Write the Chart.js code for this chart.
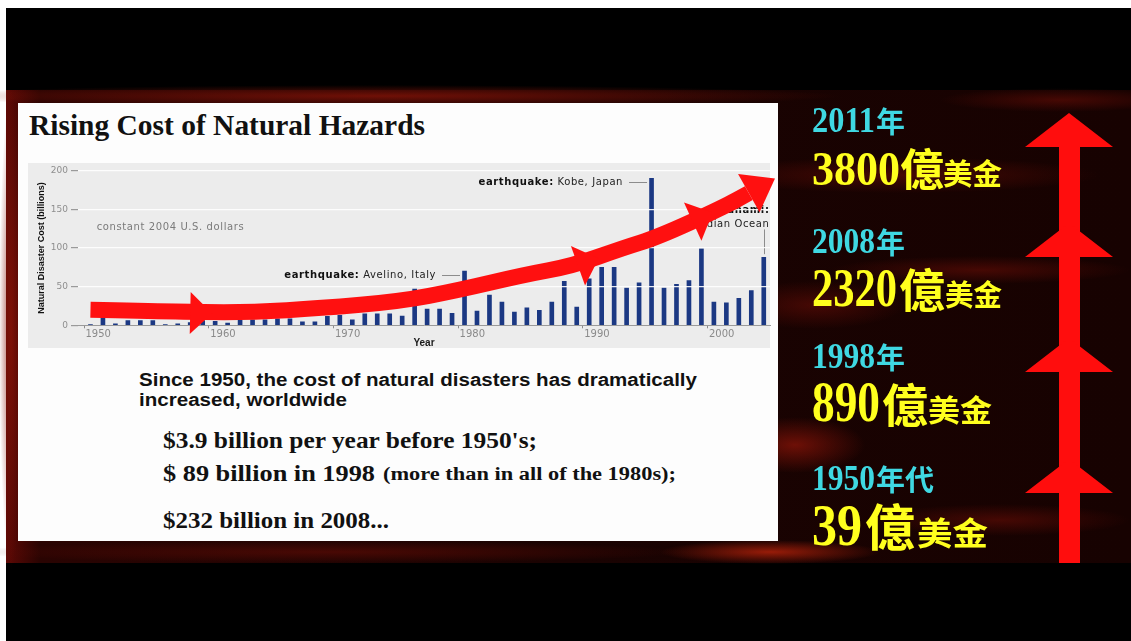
<!DOCTYPE html>
<html>
<head>
<meta charset="utf-8">
<script src="https://cdn.jsdelivr.net/npm/chart.js@4.4.0/dist/chart.umd.min.js"></script>
<style>
  html,body{margin:0;padding:0;background:#fff;}
  #stage{position:relative;width:1131px;height:641px;overflow:hidden;}
  #bg{position:absolute;left:0;top:0;}
  #plotbg{position:absolute;left:28px;top:163px;width:742px;height:185px;background:#ececec;}
  #wrap{position:absolute;left:28px;top:160px;width:752px;height:195px;}
  #fg{position:absolute;left:0;top:0;pointer-events:none;}
</style>
</head>
<body>
<div id="stage">
<svg id="bg" width="1131" height="641" xmlns="http://www.w3.org/2000/svg">
  <defs>
    <radialGradient id="glow"><stop offset="0" stop-color="#8a1408" stop-opacity="0.75"/><stop offset="1" stop-color="#8a1408" stop-opacity="0"/></radialGradient>
    <radialGradient id="glowDim"><stop offset="0" stop-color="#5a0b05" stop-opacity="0.7"/><stop offset="1" stop-color="#5a0b05" stop-opacity="0"/></radialGradient>
    <radialGradient id="glowHot"><stop offset="0" stop-color="#b8220a" stop-opacity="0.8"/><stop offset="1" stop-color="#b8220a" stop-opacity="0"/></radialGradient>
    <linearGradient id="band" x1="0" y1="0" x2="1" y2="0">
      <stop offset="0" stop-color="#5e0905"/><stop offset="0.03" stop-color="#2a0402"/>
      <stop offset="0.5" stop-color="#1a0302"/><stop offset="1" stop-color="#170201"/>
    </linearGradient>
  </defs>
  <rect x="0" y="0" width="1131" height="641" fill="#fff"/>
  <rect x="6" y="8" width="1125" height="633" fill="#000"/>
  <rect x="6" y="90" width="1125" height="473" fill="url(#band)"/>
  <ellipse cx="380" cy="96" rx="460" ry="11" fill="url(#glow)"/>
  <ellipse cx="1060" cy="100" rx="120" ry="12" fill="url(#glowDim)"/>
  <ellipse cx="900" cy="175" rx="200" ry="18" fill="url(#glowDim)"/>
  <ellipse cx="815" cy="305" rx="90" ry="24" fill="url(#glowDim)"/>
  <ellipse cx="980" cy="270" rx="150" ry="14" fill="url(#glowDim)"/>
  <ellipse cx="795" cy="445" rx="70" ry="28" fill="url(#glow)"/>
  <ellipse cx="1000" cy="520" rx="130" ry="16" fill="url(#glowDim)"/>
  <ellipse cx="330" cy="552" rx="360" ry="11" fill="url(#glowDim)"/>
  <ellipse cx="770" cy="552" rx="110" ry="12" fill="url(#glowHot)"/>
  <ellipse cx="11" cy="330" rx="12" ry="240" fill="url(#glow)"/>

  <rect x="18" y="103" width="760" height="438" fill="#fdfdfd"/>

  <g font-family="Liberation Serif" font-weight="bold" fill="#111">
    <text x="29" y="135" font-size="29" textLength="396" lengthAdjust="spacingAndGlyphs">Rising Cost of Natural Hazards</text>
  </g>
  <g font-family="Liberation Sans" font-weight="bold" fill="#111" font-size="17.5">
    <text x="139" y="386" textLength="558" lengthAdjust="spacingAndGlyphs">Since 1950, the cost of natural disasters has dramatically</text>
    <text x="139" y="406" textLength="208" lengthAdjust="spacingAndGlyphs">increased, worldwide</text>
  </g>
  <g font-family="Liberation Serif" font-weight="bold" fill="#111">
    <text x="163" y="448" font-size="24" textLength="374" lengthAdjust="spacingAndGlyphs">$3.9 billion per year before 1950's;</text>
    <text x="163" y="481" font-size="24" textLength="212" lengthAdjust="spacingAndGlyphs">$ 89 billion in 1998</text>
    <text x="383" y="480" font-size="18" textLength="293" lengthAdjust="spacingAndGlyphs">(more than in all of the 1980s);</text>
    <text x="163" y="528" font-size="24" textLength="226" lengthAdjust="spacingAndGlyphs">$232 billion in 2008...</text>
  </g>
</svg>
<div id="plotbg"></div>
<div id="wrap"><canvas id="chart" width="752" height="195"></canvas></div>
<svg id="fg" width="1131" height="641" xmlns="http://www.w3.org/2000/svg"></svg>
</div>

<script>
// yearly cost of natural disasters, billions (constant 2004 US$)
const years = [];
for (let yr = 1950; yr <= 2004; yr++) years.push(yr);
const costs = [
  1, 11, 2, 6, 6, 6, 0.5, 2, 3.5, 6,
  5, 3, 7, 7, 7, 8.5, 8.5, 4.5, 4.5, 11.5,
  13, 7, 15, 15, 15, 12, 47, 21, 21, 15.5,
  70, 18.5, 39, 30, 17, 22.5, 19.5, 30, 57, 23.5,
  60, 75, 75, 48, 55, 190, 48, 53, 58, 99,
  30, 29, 35, 45, 88
];
const decadeTicks = [1950, 1960, 1970, 1980, 1990, 2000];
const costTicks = [0, 50, 100, 150, 200];

const unitNote = 'constant 2004 U.S. dollars';
const calloutYears = [1980, 1995];
const calloutLevels = [65, 185];
const calloutKinds = ['earthquake:', 'earthquake:'];
const calloutPlaces = [' Avelino, Italy', ' Kobe, Japan'];
const tsunamiYear = 2004;
const tsunamiLines = ['tsunami:', 'Indian Ocean'];

// red trend arrow (year, billions)
const trendYears = [1950.5, 1958.8, 1963.6, 1968.9, 1975.4, 1979.9, 1985.2, 1989.2, 1993.2, 1996.0, 2001.3, 2003.3];
const trendCosts = [20, 17, 17, 22, 31, 45, 65, 77, 100, 114, 153, 171];
const trendTip = [2005.4, 190];
const markYears = [1958.5, 1989.6, 1998.8];
const markCosts = [16, 77, 134];

// right-hand notes
const noteYears = ['2011', '2008', '1998', '1950'];
const noteSuffix = ['年', '年', '年', '年代'];
const noteAmounts = ['3800', '2320', '890', '39'];
const noteUnit = '億';
const noteCurrency = '美金';

const RED = '#ff1010';
const BAR = '#1b3883';
const NOTE_FONT = '10px "DejaVu Sans"';
const NOTE_BOLD = 'bold 10px "DejaVu Sans"';

const notesPlugin = {
  id: 'notes',
  afterDatasetsDraw(chart) {
    const { ctx, scales: { x, y } } = chart;
    ctx.save();
    ctx.letterSpacing = '0.6px';
    ctx.textBaseline = 'middle';
    ctx.textAlign = 'left';
    ctx.font = NOTE_FONT;
    ctx.fillStyle = '#7a7a7a';
    ctx.fillText(unitNote, x.getPixelForValue(1951), y.getPixelForValue(126));

    ctx.strokeStyle = '#8c8c8c';
    ctx.lineWidth = 1;
    calloutYears.forEach((yr, i) => {
      const bx = x.getPixelForValue(yr + 0.5) - 4.5;
      const ly = Math.round(y.getPixelForValue(calloutLevels[i])) + 0.5;
      ctx.beginPath(); ctx.moveTo(bx - 18, ly); ctx.lineTo(bx, ly); ctx.stroke();
      ctx.textAlign = 'right';
      ctx.font = NOTE_FONT;
      ctx.fillStyle = '#222';
      ctx.fillText(calloutPlaces[i], bx - 24, ly);
      const pw = ctx.measureText(calloutPlaces[i]).width;
      ctx.font = NOTE_BOLD;
      ctx.fillStyle = '#111';
      ctx.fillText(calloutKinds[i], bx - 24 - pw, ly);
    });

    const tx = Math.round(x.getPixelForValue(tsunamiYear + 0.5)) + 0.5;
    ctx.beginPath();
    ctx.moveTo(tx, y.getPixelForValue(124));
    ctx.lineTo(tx, y.getPixelForValue(92));
    ctx.stroke();
    ctx.textAlign = 'right';
    ctx.font = NOTE_BOLD;
    ctx.fillStyle = '#111';
    ctx.fillText(tsunamiLines[0], tx + 5, y.getPixelForValue(148));
    ctx.font = NOTE_FONT;
    ctx.fillStyle = '#222';
    ctx.fillText(tsunamiLines[1], tx + 5, y.getPixelForValue(131));
    ctx.restore();
  }
};

function headAt(ctx, bx, by, ang, len, half) {
  const c = Math.cos(ang), s = Math.sin(ang);
  ctx.beginPath();
  ctx.moveTo(bx - s * half, by + c * half);
  ctx.lineTo(bx + c * len, by + s * len);
  ctx.lineTo(bx + s * half, by - c * half);
  ctx.closePath();
  ctx.fill();
}

const trendPlugin = {
  id: 'trendArrow',
  afterDraw(chart) {
    const { ctx, scales: { x, y } } = chart;
    const pts = trendYears.map((t, i) => ({ x: x.getPixelForValue(t), y: y.getPixelForValue(trendCosts[i]) }));
    ctx.save();
    ctx.strokeStyle = RED;
    ctx.fillStyle = RED;
    ctx.lineWidth = 16;
    ctx.lineJoin = 'round';
    ctx.beginPath();
    ctx.moveTo(pts[0].x, pts[0].y);
    for (let i = 1; i < pts.length - 1; i++) {
      const mx = (pts[i].x + pts[i + 1].x) / 2, my = (pts[i].y + pts[i + 1].y) / 2;
      ctx.quadraticCurveTo(pts[i].x, pts[i].y, mx, my);
    }
    const last = pts[pts.length - 1];
    ctx.lineTo(last.x, last.y);
    ctx.stroke();

    markYears.forEach((t, i) => {
      const bx = x.getPixelForValue(t), by = y.getPixelForValue(markCosts[i]);
      let k = trendYears.findIndex(v => v > t);
      if (k < 1) k = 1;
      const a = pts[k - 1], b = pts[k];
      headAt(ctx, bx, by, Math.atan2(b.y - a.y, b.x - a.x), 22, 21);
    });

    const tip = { x: x.getPixelForValue(trendTip[0]), y: y.getPixelForValue(trendTip[1]) };
    const ang = Math.atan2(tip.y - last.y, tip.x - last.x);
    const len = Math.hypot(tip.x - last.x, tip.y - last.y);
    headAt(ctx, last.x, last.y, ang, len, 22);
    ctx.restore();
  }
};

new Chart(document.getElementById('chart'), {
  type: 'bar',
  data: {
    datasets: [{
      data: years.map((yr, i) => ({ x: yr + 0.5, y: costs[i] })),
      backgroundColor: BAR,
      borderWidth: 0,
      barThickness: 4
    }]
  },
  options: {
    responsive: false,
    animation: false,
    devicePixelRatio: 1,
    layout: { padding: { top: 10.7, right: 10, left: 0, bottom: 0 } },
    plugins: { legend: { display: false }, tooltip: { enabled: false } },
    scales: {
      x: {
        type: 'linear',
        offset: false,
        min: 1949.5,
        max: 2005,
        afterBuildTicks: s => { s.ticks = decadeTicks.map(v => ({ value: v })); },
        afterFit: s => { s.height = 29.7; },
        grid: { offset: false, drawOnChartArea: false, drawTicks: true, tickLength: 3, tickColor: '#8c8c8c' },
        border: { display: true, color: '#9a9a9a', z: 2 },
        ticks: {
          callback: v => String(v),
          labelOffset: 14,
          padding: 0,
          maxRotation: 0,
          autoSkip: false,
          color: '#8a8a8a',
          font: { family: 'DejaVu Sans', size: 10 }
        },
        title: {
          display: true, text: 'Year', color: '#1a1a1a',
          font: { family: 'Liberation Sans', size: 10, weight: 'bold' },
          padding: { top: 0, bottom: 6 }
        }
      },
      y: {
        min: 0,
        max: 200,
        afterBuildTicks: s => { s.ticks = costTicks.map(v => ({ value: v })); },
        afterFit: s => { s.width = 50; },
        grid: {
          z: 1,
          lineWidth: 1.2,
          color: c => (c.tick && c.tick.value === 0) ? 'rgba(0,0,0,0)' : 'rgba(255,255,255,0.9)',
          tickColor: '#9a9a9a',
          tickLength: 7
        },
        border: { display: false },
        ticks: {
          padding: 3,
          color: '#8e8e8e',
          font: { family: 'DejaVu Sans', size: 9 }
        },
        title: {
          display: true, text: 'Natural Disaster Cost (billions)', color: '#111',
          font: { family: 'Liberation Sans', size: 9, weight: 'bold' },
          padding: 8.6
        }
      }
    }
  },
  plugins: [notesPlugin, trendPlugin]
});

// right side: red arrow and cost notes
const NS = 'http://www.w3.org/2000/svg';
const fg = document.getElementById('fg');
function el(tag, attrs, text) {
  const e = document.createElementNS(NS, tag);
  for (const k in attrs) e.setAttribute(k, attrs[k]);
  if (text != null) e.textContent = text;
  fg.appendChild(e);
  return e;
}
el('rect', { x: 1059, y: 140, width: 21, height: 423, fill: '#ff0d0d' });
[147, 257, 372, 493].forEach(b => {
  el('polygon', { points: `1025,${b} 1069,${b - 34} 1113,${b}`, fill: '#ff0d0d' });
});

const rows = [
  { yb: 132, ab: 185, dF: 49, dW: 88, uX: 900, uF: 44, cX: 943, cW: 59, cF: 29 },
  { yb: 253, ab: 306, dF: 55, dW: 85, uX: 899, uF: 46, cX: 945, cW: 57, cF: 29 },
  { yb: 368, ab: 421, dF: 56, dW: 68, uX: 882, uF: 46, cX: 928, cW: 64, cF: 30 },
  { yb: 490, ab: 545, dF: 59, dW: 50, uX: 865, uF: 50, cX: 917, cW: 71, cF: 32 }
];
const SERIF = 'Liberation Serif', CJK = '"Noto Sans CJK TC"';
rows.forEach((r, i) => {
  el('text', { x: 812, y: r.yb, 'font-family': SERIF, 'font-weight': 'bold', 'font-size': 35,
    fill: '#3fd8e2', textLength: 63, lengthAdjust: 'spacingAndGlyphs' }, noteYears[i]);
  el('text', { x: 876, y: r.yb + 1, 'font-family': CJK, 'font-weight': 'bold', 'font-size': 29,
    fill: '#3fd8e2', textLength: noteSuffix[i].length * 29, lengthAdjust: 'spacingAndGlyphs' }, noteSuffix[i]);
  el('text', { x: 812, y: r.ab, 'font-family': SERIF, 'font-weight': 'bold', 'font-size': r.dF,
    fill: '#ffff1e', textLength: r.dW, lengthAdjust: 'spacingAndGlyphs' }, noteAmounts[i]);
  el('text', { x: r.uX, y: r.ab + 1, 'font-family': CJK, 'font-weight': 'bold', 'font-size': r.uF,
    fill: '#ffff1e' }, noteUnit);
  el('text', { x: r.cX, y: r.ab, 'font-family': CJK, 'font-weight': 'bold', 'font-size': r.cF,
    fill: '#ffff1e', textLength: r.cW, lengthAdjust: 'spacingAndGlyphs' }, noteCurrency);
});
</script>
</body>
</html>
